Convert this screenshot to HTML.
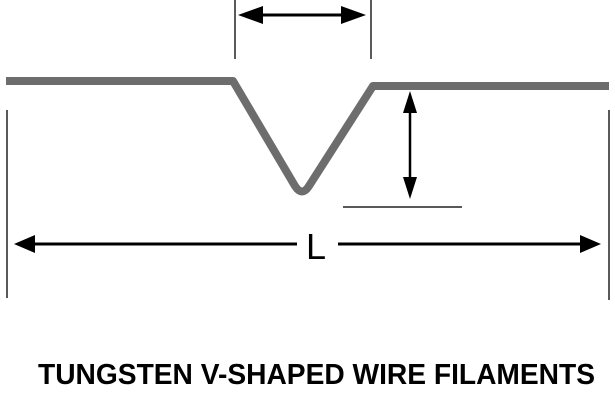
<!DOCTYPE html>
<html><head><style>html,body{margin:0;padding:0;background:#fff;width:615px;height:408px;overflow:hidden}</style></head>
<body>
<svg width="615" height="408" viewBox="0 0 615 408" xmlns="http://www.w3.org/2000/svg">
<path d="M6,81 L233,81 L295,186 Q302,197 309,186 L373,86 L609,86" fill="none" stroke="#6d6d6d" stroke-width="8" stroke-linejoin="round"/>
<g stroke="#222" stroke-width="1.5">
<line x1="235" y1="0" x2="235" y2="59"/>
<line x1="371" y1="0" x2="371" y2="59"/>
<line x1="7" y1="110" x2="7" y2="298"/>
<line x1="609" y1="110" x2="609" y2="300"/>
<line x1="343" y1="207" x2="462" y2="207"/>
</g>
<g fill="#000">
<line x1="255" y1="15" x2="348" y2="15" stroke="#000" stroke-width="3"/>
<polygon points="238,15 263,6 263,24"/>
<polygon points="366,15 341,6 341,24"/>
<line x1="410" y1="105" x2="410" y2="185" stroke="#000" stroke-width="2.5"/>
<polygon points="410,91 403,113 417,113"/>
<polygon points="410,199 403,177 417,177"/>
<line x1="30" y1="244" x2="297" y2="244" stroke="#000" stroke-width="3"/>
<polygon points="14,244 35,235 35,253"/>
<line x1="338" y1="244" x2="585" y2="244" stroke="#000" stroke-width="3"/>
<polygon points="601,244 580,235 580,253"/>
</g>
<text x="316" y="259" font-family="Liberation Sans, sans-serif" font-size="36" text-anchor="middle" fill="#000">L</text>
<text x="38" y="384" font-family="Liberation Sans, sans-serif" font-weight="bold" font-size="29" textLength="557" lengthAdjust="spacingAndGlyphs" fill="#000">TUNGSTEN V-SHAPED WIRE FILAMENTS</text>
</svg>
</body></html>
